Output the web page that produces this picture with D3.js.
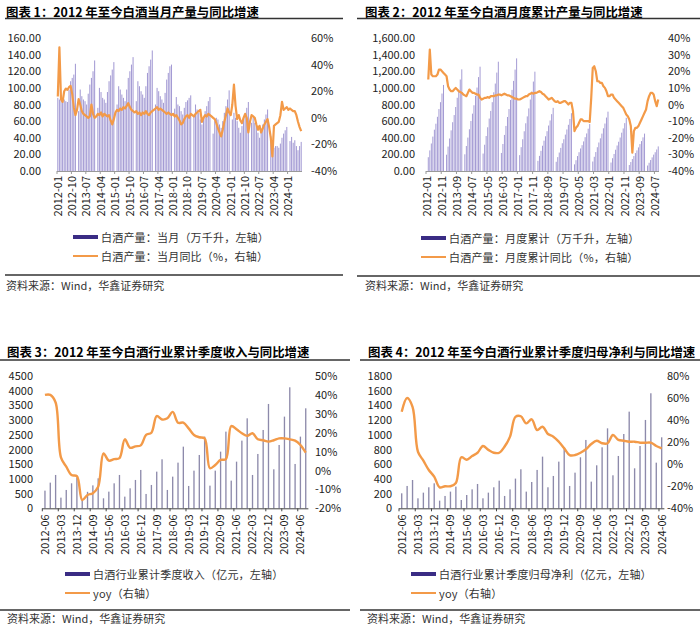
<!DOCTYPE html>
<html><head><meta charset="utf-8">
<script src="https://cdn.jsdelivr.net/npm/d3@7"></script>
<style>
body{margin:0;background:#fff;}
svg text{font-family:"Noto Sans CJK SC","Noto Sans",sans-serif;}
</style></head><body>
<svg id="c" width="700" height="627"></svg>
<script>
// ---------- categories ----------
const months = [];
for (let y = 2012; y <= 2024; y++) for (let m = 1; m <= 12; m++) {
  if (y === 2024 && m > 9) break;
  months.push(y + "-" + String(m).padStart(2, "0"));
}
const quarters3 = [], quarters4 = [];
for (let y = 2012; y <= 2024; y++) for (const m of [3, 6, 9, 12]) {
  if (y === 2012 && m < 6) continue;
  const q = y + "-" + String(m).padStart(2, "0");
  if (!(y === 2024 && m > 9)) quarters3.push(q);
  if (!(y === 2024 && m > 6)) quarters4.push(q);
}

// ---------- chart 1: monthly production (万千升) & yoy (%) ----------
const prodMonthly = [
  88, 86, 88, 85, 86, 84, 83, 98, 108, 112, 116, 129,
  null, 72, 98, 90, 86, 84, 80, 93, 104, 112, 120, 133,
  null, 76, 100, 95, 88, 86, 82, 95, 108, 115, 122, 131,
  null, 80, 102, 98, 92, 88, 84, 98, 112, 120, 128, 137,
  null, 84, 108, 102, 96, 92, 88, 102, 118, 126, 134, 145,
  null, 80, 100, 96, 90, 86, 82, 94, 110, 118, 126, 128,
  null, 75, 89, 80, 78, 72, 68, 76, 83, 85, 88, 91,
  null, 66, 80, 74, 70, 62, 56, 64, 72, 78, 84, 89,
  null, 45, 60, 64, 62, 56, 52, 60, 70, 78, 86, 97,
  null, 62, 70, 64, 60, 52, 46, 54, 62, 68, 76, 83,
  null, 58, 64, 58, 54, 46, 40, 48, 56, 62, 68, 74,
  null, 42, 26, 28, 30, 30, 28, 33, 40, 45, 49, 53,
  null, 36, 41, 34, 37, 30, 25, 30, 35
];
const prodMonthlyYoY = [
  16, 53, 14, 12, 20, 22, 21, 23, 24, 18, 8, 2,
  6, 14, 10, 5, 3, 2, 1, 0, 1, 10, 3, 0,
  1, 3, 2, 4, 1, 3, 2, 1, 2, -2, -5, -1,
  4, 6, 5, 7, 6, 8, 7, 9, 11, 8, 6, 5,
  4, 5, 3, 4, 2, 4, 3, 5, 3, 2, 4, 5,
  6, 7, 8, 6, 7, 6, 5, 4, 3, 4, 3, 2,
  3, 1, 2, 0, -2, -5, -4, -1, 1, 2, 0, 3,
  2, 1, 3, 4, 5, 6, -3, 0, 2, 1, 3, 2,
  1, 0, -1, -4, -8, -11, -14, -9, -3, 2, 7, 4,
  2, 10, 25, 9, -1, 2, -2, -4, 0, 3, 0, -11,
  -3, 2, 1, 0, -5, -9, -6, -11, -8, -5, -3, -1,
  -7, -15, -29, -6, -5, -4, -3, 2, 12, 6, 7, 8,
  6, 7, 6, 5, 5, 2, -3, -7, -10
];

// ---------- chart 2: cumulative production & yoy ----------
const prodCum = [
  null, 166, 248, 331, 414, 497, 569, 652, 745, 828, 932, 1035,
  null, 196, 294, 391, 489, 587, 673, 770, 881, 978, 1101, 1223,
  null, 201, 301, 402, 502, 602, 690, 791, 904, 1004, 1130, 1255,
  null, 210, 316, 421, 526, 631, 723, 828, 947, 1052, 1184, 1315,
  null, 217, 325, 434, 542, 650, 745, 854, 976, 1084, 1220, 1355,
  null, 191, 287, 382, 478, 574, 657, 753, 860, 956, 1076, 1195,
  null, 122, 182, 243, 304, 365, 418, 479, 547, 608, 684, 760,
  null, 111, 167, 222, 278, 334, 382, 438, 500, 556, 626, 695,
  null, 80, 130, 180, 226, 271, 311, 356, 407, 452, 509, 565,
  null, 114, 171, 228, 286, 343, 393, 450, 514, 571, 643, 714,
  null, 102, 154, 205, 256, 307, 352, 403, 461, 512, 576, 640,
  null, 72, 108, 144, 180, 216, 248, 284, 324, 360, 405, 450,
  null, 66, 99, 132, 164, 197, 226, 259, 296
];
const prodCumYoY = [
  null, 15, 33, 18, 17, 17, 17, 18, 21, 21, 20, 19,
  18, 17, 11, 9, 8, 8, 9, 10, 9, 8, 7.5, 7,
  6, 5.5, 5, 7, 9, 8, 7, 7, 6.5, 6, 6, 4,
  3, 3.5, 4, 4, 4.5, 4, 5, 5, 5, 5.5, 5.5, 6,
  6, 5.5, 6, 6.5, 6, 5.5, 5.5, 5, 4.5, 4, 3.5, 3.5,
  3, 3, 3.5, 4, 4.5, 5, 5, 6, 6.5, 7, 6.5, 7,
  7, 7.5, 8, 7.5, 6.5, 6, 5, 4, 3, 3.5, 4, 3,
  2, 1.5, 2, 1, 1, 1.5, 2, 2, 1, 0, 1, 1,
  -4, -16, -14, -13, -11, -9, -9, -10, -10, -10, -10, -10.5,
  4, 22, 23, 20, 14, 14, 13, 13, 11, 10, 8, 5,
  5, 6, 6, 4, 3, 2, 1, 0, -1, -2, -4, -6,
  -7, -9, -13, -29, -16, -14, -14, -13, -11, -9, -7, -5,
  -3, 2, 5, 7, 7, 6, 2, -1, 3
];

// ---------- chart 3: industry cumulative quarterly revenue (亿元) & yoy ----------
const revenueCum = [
  601, 873, 1134, 363, 624, 850, 1050, 320, 560, 780, 1020, 340,
  567, 850, 1134, 397, 680, 964, 1304, 488, 794, 1247, 1667, 624,
  1077, 1553, 2097, 760, 1281, 1814, 2438, 771, 1281, 1927, 2608, 941,
  1587, 2302, 3061, 1134, 1848, 2664, 3549, 1327, 2154, 3118, 4116, 1508,
  2438, 3401
];
const revenueYoY = [
  40, 40, 36, 7, 2, -2.4, -3, -15.6, -13, -12, -8.6, 9,
  5.2, 6, 6.5, 16.5, 12, 12.8, 13.3, 18.8, 20, 28.8, 27, 27.6,
  31, 25.3, 25.3, 22.3, 18.8, 17.6, 17, 1.2, 2.9, 5.6, 6, 23.5,
  21.8, 19.7, 18.3, 19.7, 16.5, 16, 15.3, 16, 17, 17, 16.5, 15.8,
  13.5, 9.4
];

// ---------- chart 4: industry cumulative quarterly net profit (亿元) & yoy ----------
const profitCum = [
  204, 304, 385, 136, 213, 286, 340, 104, 168, 227, 295, 113,
  181, 258, 331, 136, 213, 286, 376, 168, 258, 404, 531, 227,
  358, 522, 703, 286, 440, 635, 830, 304, 485, 694, 930, 363,
  585, 830, 1088, 449, 712, 1011, 1315, 544, 848, 1202, 1565, 621,
  966
];
const profitYoY = [
  47.6, 60, 52, 11.3, 3.2, -5.3, -11.3, -21, -20, -20, -17, 6.3,
  4, 7.4, 10.4, 16.5, 13, 10.4, 10.4, 16, 25, 43, 43.5, 37,
  40.7, 31, 34, 27.4, 25, 20.4, 14.4, 8.3, 8.3, 10.4, 13.5, 18.3,
  21.3, 19, 19, 26.5, 22, 21.3, 20.4, 20.4, 19.5, 19.5, 19.5, 16.5,
  14.4
];

// ---------- tick values ----------
const ticksL1 = [0, 20, 40, 60, 80, 100, 120, 140, 160];
const ticksR1 = [-40, -20, 0, 20, 40, 60];
const ticksL2 = [0, 200, 400, 600, 800, 1000, 1200, 1400, 1600];
const ticksR2 = [-40, -30, -20, -10, 0, 10, 20, 30, 40];
const ticksL3 = [0, 500, 1000, 1500, 2000, 2500, 3000, 3500, 4000, 4500];
const ticksR3 = [-20, -10, 0, 10, 20, 30, 40, 50];
const ticksL4 = [0, 200, 400, 600, 800, 1000, 1200, 1400, 1600, 1800];
const ticksR4 = [-40, -20, 0, 20, 40, 60, 80];

const ORANGE = "#f39a48";
const SWATCH = "#3a2c84";
const svg = d3.select("#c");

function panel(cfg) {
  const g = svg.append("g");
  const x = d3.scaleBand().domain(cfg.cats).range(cfg.xr)
    .paddingInner(cfg.pad).paddingOuter(cfg.pad / 2);
  const yL = d3.scaleLinear().domain([cfg.lTicks[0], cfg.lTicks[cfg.lTicks.length - 1]]).range([cfg.yb, cfg.yt]);
  const yR = d3.scaleLinear().domain([cfg.rTicks[0], cfg.rTicks[cfg.rTicks.length - 1]]).range([cfg.yb, cfg.yt]);
  const bw = x.bandwidth(), step = x.step();

  // bars
  g.append("g").selectAll("rect")
    .data(cfg.bars.map((v, i) => ({ v, c: cfg.cats[i] })).filter(d => d.v != null))
    .join("rect")
    .attr("x", d => x(d.c)).attr("width", bw)
    .attr("y", d => yL(d.v)).attr("height", d => cfg.yb - yL(d.v))
    .attr("fill", cfg.barColor);

  // baseline
  g.append("line").attr("x1", cfg.xr[0]).attr("x2", cfg.xr[1])
    .attr("y1", cfg.yb + 0.5).attr("y2", cfg.yb + 0.5)
    .attr("stroke", cfg.axisColor).attr("stroke-width", 1);
  const labelCats = cfg.cats.filter((c, i) => i % cfg.every === 0);
  g.append("g").selectAll("line").data(labelCats).join("line")
    .attr("x1", d => x(d) - step * cfg.pad / 2).attr("x2", d => x(d) - step * cfg.pad / 2)
    .attr("y1", cfg.yb).attr("y2", cfg.yb + 3)
    .attr("stroke", cfg.axisColor).attr("stroke-width", 1);

  // x labels
  const ax = g.append("g").attr("transform", `translate(0,${cfg.yb})`)
    .call(d3.axisBottom(x).tickValues(labelCats).tickSize(0));
  ax.select(".domain").remove();
  ax.attr("font-family", null).attr("font-size", 11);
  ax.selectAll("text")
    .attr("transform", "rotate(-90)").attr("x", -cfg.labGap).attr("y", 0)
    .attr("dy", "0.35em").attr("text-anchor", "end").attr("fill", "#222");

  // line
  const line = d3.line().defined(d => d.v != null)
    .x(d => x(d.c) + bw / 2).y(d => yR(d.v)).curve(cfg.curve);
  g.append("path")
    .datum(cfg.line.map((v, i) => ({ v, c: cfg.cats[i] })))
    .attr("d", line).attr("fill", "none")
    .attr("stroke", ORANGE).attr("stroke-width", cfg.lineW)
    .attr("stroke-linejoin", "round");

  // left axis
  const la = g.append("g").attr("transform", `translate(${cfg.lx},0)`)
    .call(d3.axisLeft(yL).tickValues(cfg.lTicks).tickSize(0).tickPadding(0).tickFormat(cfg.lFmt));
  la.select(".domain").remove();
  la.attr("font-family", null).attr("font-size", 11);
  la.selectAll("text").attr("fill", "#222");
  // right axis
  const ra = g.append("g").attr("transform", `translate(${cfg.rx},0)`)
    .call(d3.axisRight(yR).tickValues(cfg.rTicks).tickSize(0).tickPadding(0).tickFormat(d => d + "%"));
  ra.select(".domain").remove();
  ra.attr("font-family", null).attr("font-size", 11);
  ra.selectAll("text").attr("fill", "#222");

  // title + rules
  g.append("text").attr("x", cfg.titleX).attr("y", cfg.titleY).attr("dominant-baseline", "central")
    .attr("font-size", 12.4).attr("font-weight", 700).attr("fill", "#000").text(cfg.title);
  g.append("line").attr("x1", cfg.ruleX[0]).attr("x2", cfg.ruleX[1])
    .attr("y1", cfg.ruleY).attr("y2", cfg.ruleY).attr("stroke", "#333").attr("stroke-width", 1.3);
  g.append("line").attr("x1", cfg.ruleX[0]).attr("x2", cfg.ruleX[1])
    .attr("y1", cfg.srcRuleY).attr("y2", cfg.srcRuleY).attr("stroke", "#333").attr("stroke-width", 1.3);
  g.append("text").attr("x", cfg.srcX).attr("y", cfg.srcY).attr("dominant-baseline", "central")
    .attr("font-size", 11).attr("fill", "#333").text("资料来源：Wind，华鑫证券研究");

  // legend
  g.append("rect").attr("x", cfg.lgX).attr("y", cfg.lgY1 - 2).attr("width", 25).attr("height", 4).attr("fill", SWATCH);
  g.append("text").attr("x", cfg.lgX + 28).attr("y", cfg.lgY1).attr("dominant-baseline", "central")
    .attr("font-size", 11).attr("letter-spacing", 0.2).attr("fill", "#333").text(cfg.lg1);
  g.append("line").attr("x1", cfg.lgX).attr("x2", cfg.lgX + 25).attr("y1", cfg.lgY2).attr("y2", cfg.lgY2)
    .attr("stroke", ORANGE).attr("stroke-width", 2);
  g.append("text").attr("x", cfg.lgX + 28).attr("y", cfg.lgY2).attr("dominant-baseline", "central")
    .attr("font-size", 11).attr("letter-spacing", 0.2).attr("fill", "#333").text(cfg.lg2);
}

panel({
  cats: months, bars: prodMonthly, line: prodMonthlyYoY,
  xr: [57, 302], pad: 0.35, yb: 171, yt: 38,
  lTicks: ticksL1, rTicks: ticksR1, lFmt: d3.format(".2f"),
  lx: 41, rx: 311, every: 9, labGap: 5,
  barColor: "#a49bd4", axisColor: "#999", curve: d3.curveLinear, lineW: 2.2,
  title: "图表 1：2012 年至今白酒当月产量与同比增速", titleX: 6, titleY: 12,
  ruleX: [5, 343], ruleY: 18.5, srcRuleY: 275, srcX: 6, srcY: 285,
  lgX: 73, lgY1: 237, lgY2: 256,
  lg1: "白酒产量：当月（万千升，左轴）", lg2: "白酒产量：当月同比（%，右轴）"
});
panel({
  cats: months, bars: prodCum, line: prodCumYoY,
  xr: [426, 659], pad: 0.35, yb: 171, yt: 38,
  lTicks: ticksL2, rTicks: ticksR2, lFmt: d3.format(",.2f"),
  lx: 415, rx: 668, every: 10, labGap: 5,
  barColor: "#a49bd4", axisColor: "#999", curve: d3.curveLinear, lineW: 2.2,
  title: "图表 2：2012 年至今白酒月度累计产量与同比增速", titleX: 365, titleY: 12,
  ruleX: [357, 700], ruleY: 18.5, srcRuleY: 276, srcX: 365, srcY: 285,
  lgX: 421, lgY1: 238, lgY2: 257,
  lg1: "白酒产量：月度累计（万千升，左轴）", lg2: "白酒产量：月度累计同比（%，右轴）"
});
panel({
  cats: quarters3, bars: revenueCum, line: revenueYoY,
  xr: [42.3, 308.4], pad: 0.75, yb: 508.3, yt: 376,
  lTicks: ticksL3, rTicks: ticksR3, lFmt: d => String(d),
  lx: 33, rx: 315, every: 3, labGap: 6,
  barColor: "#8d8aab", axisColor: "#444", curve: d3.curveCatmullRom, lineW: 2.4,
  title: "图表 3：2012 年至今白酒行业累计季度收入与同比增速", titleX: 7, titleY: 352,
  ruleX: [0, 350], ruleY: 360, srcRuleY: 610, srcX: 7, srcY: 618,
  lgX: 65, lgY1: 574, lgY2: 593,
  lg1: "白酒行业累计季度收入（亿元，左轴）", lg2: "yoy（右轴）"
});
panel({
  cats: quarters4, bars: profitCum, line: profitYoY,
  xr: [399, 664.4], pad: 0.75, yb: 508.3, yt: 376,
  lTicks: ticksL4, rTicks: ticksR4, lFmt: d => String(d),
  lx: 392, rx: 667, every: 3, labGap: 6,
  barColor: "#8d8aab", axisColor: "#444", curve: d3.curveCatmullRom, lineW: 2.4,
  title: "图表 4：2012 年至今白酒行业累计季度归母净利与同比增速", titleX: 368, titleY: 352,
  ruleX: [360, 700], ruleY: 360, srcRuleY: 610, srcX: 367, srcY: 618,
  lgX: 411, lgY1: 574, lgY2: 593,
  lg1: "白酒行业累计季度归母净利（亿元，左轴）", lg2: "yoy（右轴）"
});
</script>
</body></html>
